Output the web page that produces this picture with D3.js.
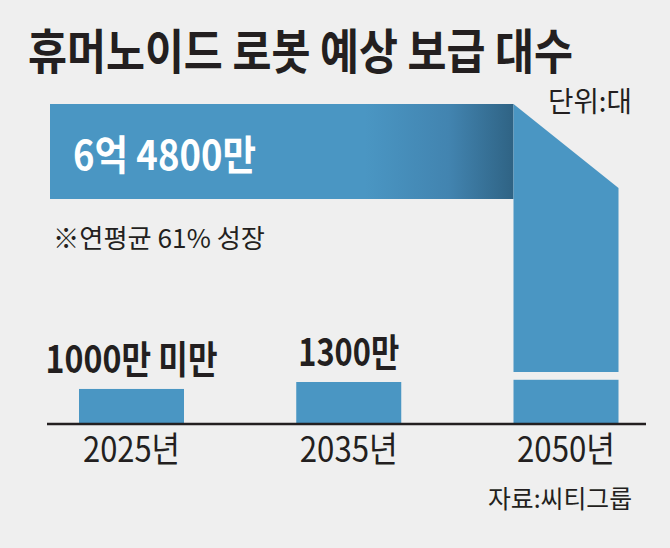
<!DOCTYPE html>
<html>
<head>
<meta charset="utf-8">
<script src="https://cdn.jsdelivr.net/npm/d3@7"></script>
<style>
  html, body { margin: 0; padding: 0; background: #efefef; }
  svg { display: block; }
  text { font-family: "Noto Sans CJK KR", sans-serif; fill: #231f20; }
</style>
</head>
<body>
<svg id="chart"></svg>
<script>
// data (unit: 만 대)
const years = ["2025년", "2035년", "2050년"];
const units = [1000, 1300, 64800];
const valueLabels = ["1000만 미만", "1300만", "6억 4800만"];
const breakValue = 1400; // axis break for the 2050 bar

const width = 670, height = 548;
const svg = d3.select("#chart").attr("width", width).attr("height", height);

svg.append("rect").attr("width", width).attr("height", height).attr("fill", "#efefef");

const blue = "#4a96c3";
const baseY = 423.5;
const barW = 105;

// scales
const x = d3.scalePoint().domain(years).range([131.5, 566]);
const y = d3.scalePow().exponent(0.7).domain([0, 1300]).range([baseY, 382]);
// upper part of the broken axis (2050)
const yTop = d3.scaleLinear().domain([breakValue, units[2]]).range([372, 104]);

// title
svg.append("text")
  .attr("x", 28).attr("y", 68.5)
  .attr("textLength", 545).attr("lengthAdjust", "spacingAndGlyphs")
  .style("font-size", "48px").style("font-weight", 700)
  .text("휴머노이드 로봇 예상 보급 대수");

svg.append("text")
  .attr("x", 548).attr("y", 111.5)
  .attr("textLength", 84).attr("lengthAdjust", "spacingAndGlyphs")
  .style("font-size", "28px")
  .text("단위:대");

// gradient for the big band
const defs = svg.append("defs");
const grad = defs.append("linearGradient")
  .attr("id", "bandGrad")
  .attr("gradientUnits", "userSpaceOnUse")
  .attr("x1", 50).attr("x2", x(years[2]) - barW / 2)
  .attr("y1", 0).attr("y2", 0);
grad.append("stop").attr("offset", 0).attr("stop-color", blue);
grad.append("stop").attr("offset", 0.68).attr("stop-color", blue);
grad.append("stop").attr("offset", 0.86).attr("stop-color", "#4284b0");
grad.append("stop").attr("offset", 1).attr("stop-color", "#2f6384");

// 2050 broken bar: ribbon + fold + lower piece
const x0 = x(years[2]) - barW / 2, x1 = x(years[2]) + barW / 2;
const topY = yTop(units[2]);
const bandH = 95;

svg.append("rect")
  .attr("x", 50).attr("y", topY)
  .attr("width", x0 - 50).attr("height", bandH)
  .attr("fill", "url(#bandGrad)");

svg.append("path")
  .attr("d", d3.line()([
    [x0, topY], [x1, topY + 84], [x1, yTop(breakValue)], [x0, yTop(breakValue)]
  ]) + "Z")
  .attr("fill", blue);

// bars
svg.selectAll("rect.bar")
  .data(years)
  .join("rect")
  .attr("class", "bar")
  .attr("x", d => x(d) - barW / 2)
  .attr("width", barW)
  .attr("y", (d, i) => y(Math.min(units[i], breakValue)))
  .attr("height", (d, i) => baseY - y(Math.min(units[i], breakValue)))
  .attr("fill", blue);

// baseline
svg.append("line")
  .attr("x1", 47).attr("x2", 646)
  .attr("y1", baseY + 0.5).attr("y2", baseY + 0.5)
  .attr("stroke", "#231f20").attr("stroke-width", 2.5);

// year labels
const yearW = [97, 98, 98];
svg.selectAll("text.year")
  .data(years)
  .join("text")
  .attr("class", "year")
  .attr("x", d => x(d)).attr("y", 462)
  .attr("text-anchor", "middle")
  .attr("textLength", (d, i) => yearW[i]).attr("lengthAdjust", "spacingAndGlyphs")
  .style("font-size", "35px")
  .text(d => d);

// value labels (first two above bars)
const labW = [172, 101];
svg.selectAll("text.val")
  .data(years.slice(0, 2))
  .join("text")
  .attr("class", "val")
  .attr("x", d => x(d))
  .attr("y", (d, i) => y(units[i]) - 16)
  .attr("text-anchor", "middle")
  .attr("textLength", (d, i) => labW[i]).attr("lengthAdjust", "spacingAndGlyphs")
  .style("font-size", "38px").style("font-weight", 700)
  .text((d, i) => valueLabels[i]);

// big value in the band
svg.append("text")
  .attr("x", 73).attr("y", 170)
  .attr("textLength", 183).attr("lengthAdjust", "spacingAndGlyphs")
  .style("font-size", "41px").style("font-weight", 700)
  .style("fill", "#ffffff")
  .text(valueLabels[2]);

svg.append("text")
  .attr("x", 53).attr("y", 248)
  .attr("textLength", 212).attr("lengthAdjust", "spacingAndGlyphs")
  .style("font-size", "26px")
  .text("※연평균 61% 성장");

// source
svg.append("text")
  .attr("x", 488).attr("y", 508)
  .attr("textLength", 144).attr("lengthAdjust", "spacingAndGlyphs")
  .style("font-size", "25px")
  .text("자료:씨티그룹");
</script>
</body>
</html>
